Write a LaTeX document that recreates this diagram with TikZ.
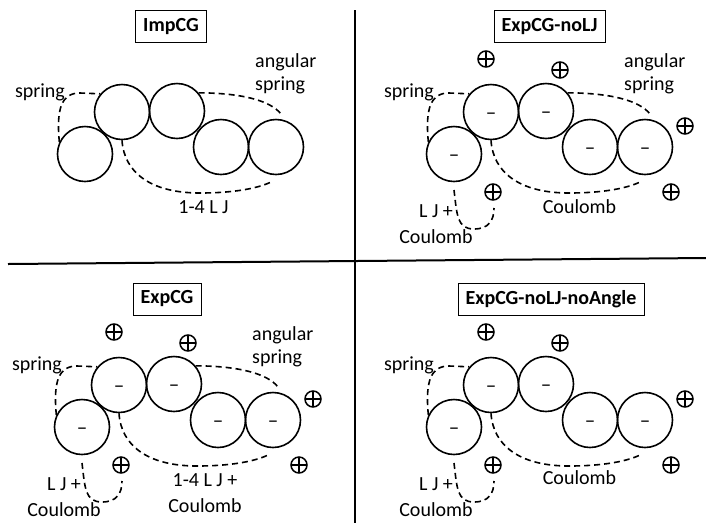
\documentclass[tikz,border=0pt]{standalone}
\usepackage{fontspec}
\setmainfont{Carlito}
\newcommand\minussign{\raisebox{-4.5pt}{–}}
\tikzset{
  bead/.style={circle, draw, line width=1.6pt, minimum size=55pt, inner sep=0pt,
    text height=0.52em, text depth=0pt, font=\fontsize{21}{23}\selectfont},
  ion/.style={circle, draw, line width=1.5pt, minimum size=16pt, inner sep=0pt,
    path picture={\draw[line width=1.4pt]
      (path picture bounding box.north) -- (path picture bounding box.south)
      (path picture bounding box.west) -- (path picture bounding box.east);}},
  bond/.style={line width=1.6pt, dash pattern=on 6pt off 4pt},
  lbl/.style={font=\fontsize{20}{23}\selectfont, inner sep=0pt, anchor=base},
  lbltwo/.style={font=\fontsize{20}{26}\selectfont, inner sep=0pt, anchor=base, align=center},
  titlebox/.style={draw, line width=0.8pt, font=\bfseries\fontsize{20}{23}\selectfont,
    minimum height=32pt, inner xsep=7.5pt, inner ysep=0pt},
  divider/.style={line width=2pt},
}
\newcommand\beadchain[1]{%
  \node[bead] (c1) at (85,154) {#1};
  \node[bead] (c2) at (122,112) {#1};
  \node[bead] (c3) at (177,111) {#1};
  \node[bead] (c4) at (221,147) {#1};
  \node[bead] (c5) at (276,147) {#1};
}
\newcommand\ionset{%
  \node[ion] (p1) at (117,59) {};
  \node[ion] (p2) at (191,70) {};
  \node[ion] (p3) at (316,126) {};
  \node[ion] (p4) at (124,192) {};
  \node[ion] (p5) at (302,192) {};
}
\newcommand\springbond{%
  \draw[bond] (c1.155) .. controls (56,108) and (62,93) .. (80,93) -- (c2.140);
  \node[lbl] (ls) at (40,97) {spring};
}
\newcommand\angularbond{%
  \coordinate (ae) at (281,114);
  \draw[bond] (c3.40) .. controls (240,93) and (270,100) .. (ae);
  \node[lbl, align=left, anchor=base west] (la) at (255,90.7) {angular\\spring};
}
\newcommand\longbond{%
  \coordinate (le) at (273,181);
  \draw[bond] (c2.south) .. controls (124,172) and (150,193) .. (200,193)
    .. controls (235,193) and (260,188) .. (le);
}
\newcommand\ljbond{%
  \coordinate (js) at (85,190);
  \coordinate (je) at (125,208);
  \draw[bond] (js) .. controls (88,215) and (88,229) .. (105,229)
    .. controls (120,229) and (125,220) .. (je);
  \node[lbltwo] (lj) at (67,243) {L J +\\Coulomb};
}
\begin{document}
\begin{tikzpicture}[x=1pt, y=-1pt]
\useasboundingbox (0,0) rectangle (706,523);
% dividers
\draw[divider] (8,264) -- (706,258);
\draw[divider] (355,10) -- (355,523);
% top left
\begin{scope}[name prefix=tl-]
  \node[titlebox] (t) at (171,26.5) {ImpCG};
  \beadchain{}
  \springbond
  \angularbond
  \longbond
  \node[lbl] (ll) at (203.5,213) {1-4 L J};
\end{scope}
% top right
\begin{scope}[shift={(369,0)}, name prefix=tr-]
  \node[titlebox] (t) at (180.5,26.5) {ExpCG-noLJ};
  \beadchain{\minussign}
  \ionset
  \springbond
  \angularbond
  \longbond
  \ljbond
  \node[lbl] (ll) at (210.5,213) {Coulomb};
\end{scope}
% bottom left
\begin{scope}[shift={(-3,273)}, name prefix=bl-]
  \node[titlebox] (t) at (170,26) {ExpCG};
  \beadchain{\minussign}
  \ionset
  \springbond
  \angularbond
  \longbond
  \ljbond
  \node[lbltwo] (ll) at (208,239) {1-4 L J +\\Coulomb};
\end{scope}
% bottom right
\begin{scope}[shift={(369,273)}, name prefix=br-]
  \node[titlebox] (t) at (182,26) {ExpCG-noLJ-noAngle};
  \beadchain{\minussign}
  \ionset
  \springbond
  \longbond
  \ljbond
  \node[lbl] (ll) at (210.5,211) {Coulomb};
\end{scope}
\end{tikzpicture}
\end{document}
